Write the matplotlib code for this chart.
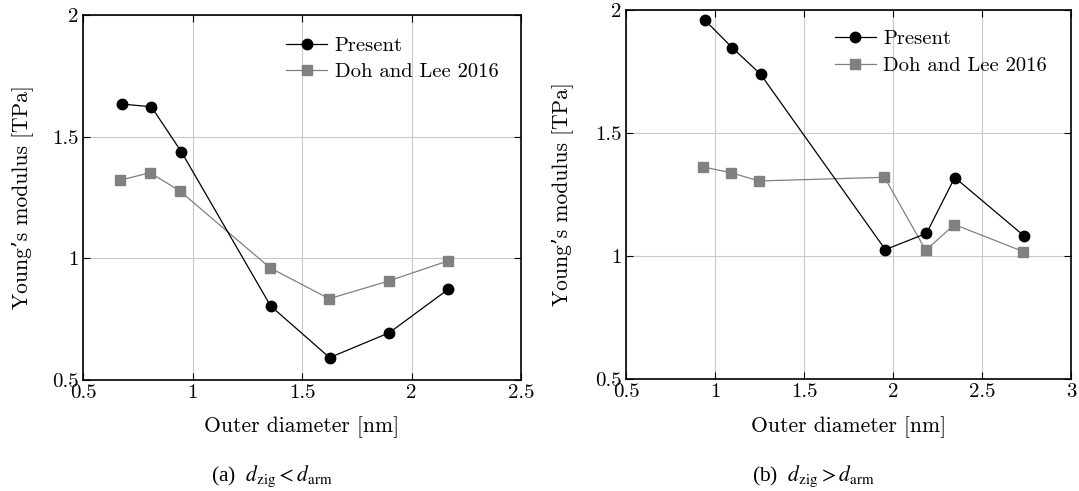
import matplotlib
matplotlib.use("Agg")
import matplotlib.pyplot as plt

# Data: (a) d_zig < d_arm
xa = [0.676, 0.812, 0.949, 1.357, 1.626, 1.898, 2.168]
present_a = [1.634, 1.623, 1.438, 0.804, 0.592, 0.694, 0.873]
xa_doh = [0.670, 0.806, 0.942, 1.354, 1.624, 1.896, 2.165]
doh_a = [1.321, 1.352, 1.277, 0.961, 0.834, 0.907, 0.989]

# Data: (b) d_zig > d_arm
xb = [0.943, 1.098, 1.256, 1.957, 2.188, 2.347, 2.736]
present_b = [1.959, 1.846, 1.739, 1.026, 1.092, 1.319, 1.082]
xb_doh = [0.932, 1.088, 1.248, 1.952, 2.184, 2.345, 2.732]
doh_b = [1.362, 1.339, 1.305, 1.320, 1.023, 1.128, 1.018]

xticks_a = [0.5, 1, 1.5, 2, 2.5]
xticks_b = [0.5, 1, 1.5, 2, 2.5, 3]
yticks = [0.5, 1, 1.5, 2]

plt.rcParams['font.family'] = ['cmr10', 'DejaVu Serif']
plt.rcParams['axes.formatter.use_mathtext'] = True
plt.rcParams['mathtext.fontset'] = 'stix'

W, H = 1079, 491
fig = plt.figure(figsize=(W / 100, H / 100), dpi=100)

def box(x0, y0, x1, y1):
    return [x0 / W, 1 - y1 / H, (x1 - x0) / W, (y1 - y0) / H]

axA = fig.add_axes(box(83, 15, 521, 380))
axB = fig.add_axes(box(626, 10, 1071, 379))

def fmt(v):
    return f"{v:g}"

def style(ax, xticks, xlim, ylab_x, xlab_y):
    ax.set_xlim(*xlim)
    ax.set_ylim(0.5, 2)
    ax.set_xticks(xticks)
    ax.set_xticklabels([fmt(v) for v in xticks])
    ax.set_yticks(yticks)
    ax.set_yticklabels([fmt(v) for v in yticks])
    ax.grid(True, color='#c8c8c8', linewidth=0.8)
    ax.set_axisbelow(True)
    ax.tick_params(direction='in', top=True, right=True, length=5, width=0.8,
                   labelsize=15, pad=3)
    for s in ax.spines.values():
        s.set_linewidth(1.2)
    ax.set_xlabel('Outer diameter [nm]', fontsize=15.5, va='center')
    ax.set_ylabel("Young’s modulus [TPa]", fontsize=15.5, va='center')
    ax.xaxis.set_label_coords(0.5, xlab_y)
    ax.yaxis.set_label_coords(ylab_x, 0.5)

for ax, x1, p, x2, d in [(axA, xa, present_a, xa_doh, doh_a),
                          (axB, xb, present_b, xb_doh, doh_b)]:
    ax.plot(x1, p, '-o', color='black', linewidth=0.9, markersize=7.5, label='Present', zorder=3)
    ax.plot(x2, d, '-s', color='#808080', linewidth=0.9, markersize=6.8,
            label='Doh and Lee 2016', zorder=2)

style(axA, xticks_a, (0.5, 2.5), (22 - 83) / 438, (380 - 427) / 365)
style(axB, xticks_b, (0.5, 3), (562 - 626) / 445, (379 - 427) / 369)

for ax, loc in [(axA, (0.45, 0.958)), (axB, (0.455, 0.963))]:
    ax.legend(loc='upper left', bbox_to_anchor=loc, frameon=False, fontsize=14.8,
              handlelength=2.0, handletextpad=0.35, labelspacing=0.4, borderpad=0.3,
              borderaxespad=0.0)

fig.text(272 / W, 1 - 476 / H, r'(a)  $d_{\mathrm{zig}} < d_{\mathrm{arm}}$',
         ha='center', va='center', fontsize=15.5, family='Liberation Serif')
fig.text(813 / W, 1 - 476 / H, r'(b)  $d_{\mathrm{zig}} > d_{\mathrm{arm}}$',
         ha='center', va='center', fontsize=15.5, family='Liberation Serif')

fig.savefig('out.png', dpi=100)
